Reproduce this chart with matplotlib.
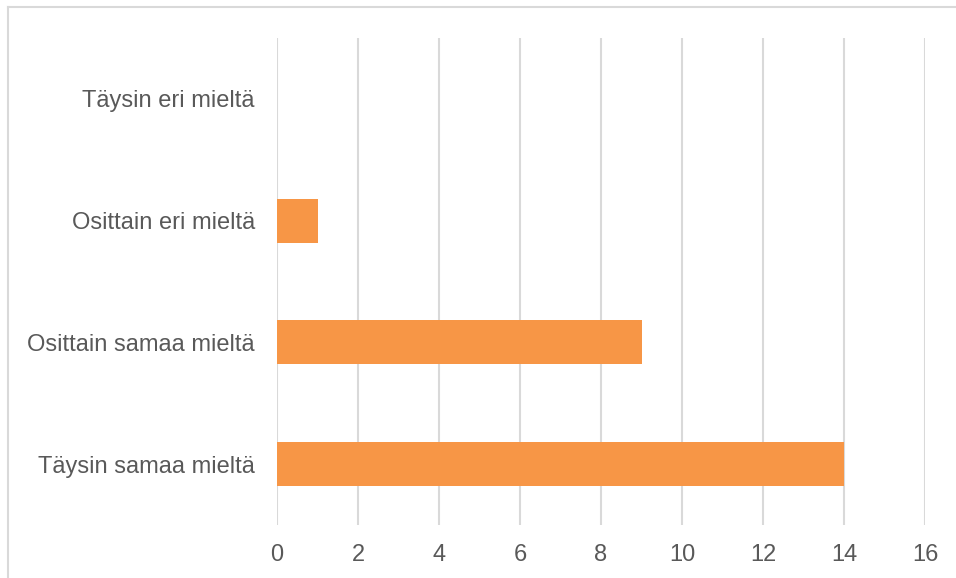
import matplotlib
matplotlib.use("Agg")
import matplotlib.pyplot as plt
from matplotlib.lines import Line2D

categories = ["Täysin samaa mieltä", "Osittain samaa mieltä", "Osittain eri mieltä", "Täysin eri mieltä"]
values = [14, 9, 1, 0]
xticks = [0, 2, 4, 6, 8, 10, 12, 14, 16]

plt.rcParams['font.family'] = ['Liberation Sans', 'DejaVu Sans']

W, H = 956, 578
fig = plt.figure(figsize=(W/100, H/100), dpi=100)
ax = fig.add_axes([277/W, 1-525/H, (925-277)/W, (525-38)/H])

ax.barh(range(len(categories)), values, height=0.36, color='#F79646', zorder=3)
ax.set_xlim(0, 16)
ax.set_ylim(-0.5, 3.5)
ax.set_xticks(xticks)
ax.set_yticks(range(len(categories)))
ax.set_yticklabels(categories)
ax.grid(axis='x', color='#D9D9D9', linewidth=1.5, zorder=0)
for s in ax.spines.values():
    s.set_visible(False)
ax.tick_params(axis='both', length=0, labelsize=17, colors='#595959')
ax.tick_params(axis='x', pad=13.5)
ax.tick_params(axis='y', pad=16)

# figure border (top and left visible)
fig.add_artist(Line2D([8/W, 8/W], [0, 1-7/H], color='#D9D9D9', linewidth=1.5, transform=fig.transFigure))
fig.add_artist(Line2D([8/W, 1], [1-7/H, 1-7/H], color='#D9D9D9', linewidth=1.5, transform=fig.transFigure))

fig.savefig("out.png", dpi=100)
